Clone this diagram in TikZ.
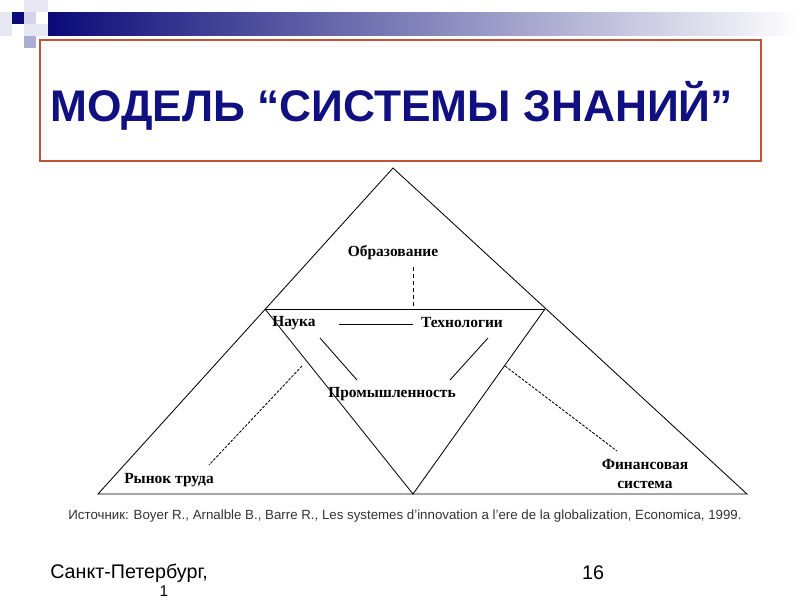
\documentclass[tikz,border=0pt]{standalone}
\usepackage{fontspec}
\setmainfont{Liberation Serif}
\newfontfamily\arialfont{Liberation Sans}
\definecolor{titleblue}{RGB}{16,16,128}
\definecolor{barblue}{RGB}{10,10,120}
\definecolor{barmid}{RGB}{125,125,188}
\definecolor{boxred}{RGB}{192,82,56}
\definecolor{lavA}{RGB}{232,232,244}
\definecolor{lavB}{RGB}{212,212,234}
\definecolor{lavC}{RGB}{172,172,212}
\tikzset{
  lbl/.style={font=\fontsize{11}{13.5}\selectfont\bfseries, inner sep=1pt},
  thinline/.style={line width=0.6pt},
  dotline/.style={line width=0.6pt, densely dashed, dash pattern=on 2pt off 1pt}
}
\begin{document}
\begin{tikzpicture}[x=0.025cm,y=-0.025cm]
\useasboundingbox (0,0) rectangle (800,600);
\fill[white] (0,0) rectangle (800,600);
\fill[lavA] (0,12) rectangle (12,36);
\fill[lavA] (24,0) rectangle (48,12);
\fill[lavB] (24,12) rectangle (36,24);
\fill[lavA] (24,24) rectangle (48,36);
\fill[lavC] (24,36) rectangle (36,48);
\fill[barblue] (12,12) rectangle (24,24);
\shade[left color=barblue, middle color=barmid, right color=white] (48,12) rectangle (800,35);
\draw[boxred, line width=1.5pt, fill=white] (40,40) rectangle (761,161);
\node[anchor=base west, inner sep=0pt, text=titleblue, font=\arialfont\bfseries\fontsize{31.5}{36}\selectfont] (title) at (50,121) {МОДЕЛЬ “СИСТЕМЫ ЗНАНИЙ”};
\coordinate (apex) at (393,168);
\coordinate (bl) at (98,494);
\coordinate (br) at (747,494);
\coordinate (ml) at (265,309);
\coordinate (mr) at (545,309);
\coordinate (mb) at (413,494);
\draw[thinline] (apex) -- (bl) -- (br) -- cycle;
\draw[thinline] (ml) -- (mr);
\draw[thinline] (ml) -- (mb) -- (mr);
\node[lbl] (obraz) at (393,253) {Образование};
\node[lbl] (nauka) at (294,323) {Наука};
\node[lbl] (tekh) at (462,323) {Технологии};
\node[lbl] (prom) at (392,394) {Промышленность};
\node[lbl] (rynok) at (169,480) {Рынок труда};
\node[lbl, align=center] (finans) at (645,474) {Финансовая\\система};
\coordinate (dashtop) at (413,267);
\coordinate (dashbot) at (413,309);
\draw[thinline, dashed, dash pattern=on 3pt off 2pt] (dashtop) -- (dashbot);
\coordinate (nt1) at (339,324);
\coordinate (nt2) at (413,324);
\draw[thinline] (nt1) -- (nt2);
\coordinate (np1) at (320,338);
\coordinate (np2) at (357,380);
\draw[thinline] (np1) -- (np2);
\coordinate (tp1) at (488,338);
\coordinate (tp2) at (450,380);
\draw[thinline] (tp1) -- (tp2);
\coordinate (rl1) at (302,366);
\coordinate (rl2) at (209,465);
\draw[dotline] (rl1) -- (rl2);
\coordinate (fs1) at (505,366);
\coordinate (fs2) at (617,451);
\draw[dotline] (fs1) -- (fs2);
\node[text=black!80, font=\arialfont\fontsize{9.45}{11}\selectfont] (istochnik) at (405,516) {Источник: Boyer R., Arnalble B., Barre R., Les systemes d’innovation a l’ere de la globalization, Economica, 1999.};
\node[anchor=west, inner sep=0pt, font=\arialfont\fontsize{14}{16}\selectfont] (gorod) at (50,573) {Санкт-Петербург,};
\node[inner sep=0pt, font=\arialfont\fontsize{14}{16}\selectfont] (nomer) at (593,573) {16};
\node[anchor=north, inner sep=0pt, font=\arialfont\fontsize{11}{13}\selectfont] (odin) at (164,586) {1};
\end{tikzpicture}
\end{document}
